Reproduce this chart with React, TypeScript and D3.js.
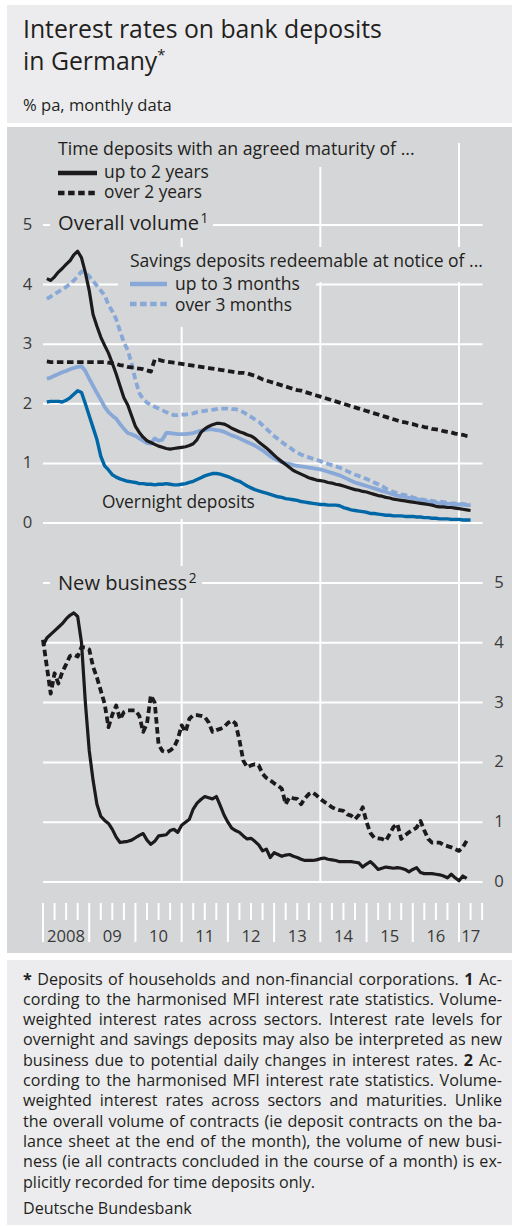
import React, { useLayoutEffect, useRef } from "react";
import * as d3 from "d3";

// ---------- DATA (monthly, Jan 2008 – Mar 2017) ----------
const yearLabels = ["2008", "09", "10", "11", "12", "13", "14", "15", "16", "17"];
const yTicks = [0, 1, 2, 3, 4, 5];

// Overall volume
const overallUpTo2Y = [
  4.10, 4.07, 4.13, 4.21, 4.27, 4.34, 4.40, 4.50, 4.56, 4.45,
  4.20, 3.90, 3.50, 3.30, 3.12, 2.98, 2.85, 2.68, 2.50, 2.30,
  2.10, 1.98, 1.80, 1.62, 1.52, 1.44, 1.38, 1.35, 1.32, 1.29,
  1.27, 1.25, 1.24, 1.25, 1.26, 1.27, 1.28, 1.30, 1.33, 1.40,
  1.52, 1.58, 1.62, 1.65, 1.67, 1.67, 1.66, 1.63, 1.59, 1.56,
  1.53, 1.51, 1.48, 1.46, 1.42, 1.36, 1.31, 1.26, 1.20, 1.14,
  1.08, 1.03, 0.98, 0.93, 0.88, 0.85, 0.82, 0.79, 0.76, 0.74,
  0.72, 0.71, 0.70, 0.68, 0.67, 0.65, 0.64, 0.62, 0.60, 0.58,
  0.56, 0.55, 0.53, 0.52, 0.50, 0.48, 0.46, 0.45, 0.43, 0.42,
  0.40, 0.39, 0.38, 0.37, 0.36, 0.35, 0.34, 0.33, 0.32, 0.31,
  0.30, 0.28, 0.27, 0.27, 0.26, 0.26, 0.25, 0.24, 0.23, 0.22,
  0.21,
];
const overallOver2Y = [
  2.71, 2.70, 2.70, 2.70, 2.70, 2.70, 2.70, 2.70, 2.70, 2.70,
  2.70, 2.70, 2.70, 2.70, 2.70, 2.70, 2.69, 2.68, 2.67, 2.65,
  2.64, 2.62, 2.61, 2.60, 2.59, 2.58, 2.56, 2.54, 2.74, 2.74,
  2.72, 2.71, 2.70, 2.69, 2.68, 2.67, 2.66, 2.65, 2.64, 2.63,
  2.62, 2.61, 2.60, 2.59, 2.58, 2.57, 2.56, 2.55, 2.54, 2.53,
  2.52, 2.52, 2.51, 2.49, 2.47, 2.44, 2.41, 2.39, 2.37, 2.35,
  2.33, 2.31, 2.29, 2.27, 2.25, 2.23, 2.22, 2.20, 2.18, 2.16,
  2.14, 2.12, 2.10, 2.08, 2.06, 2.04, 2.02, 2.00, 1.98, 1.96,
  1.94, 1.92, 1.90, 1.88, 1.86, 1.84, 1.82, 1.80, 1.78, 1.76,
  1.74, 1.72, 1.70, 1.69, 1.67, 1.66, 1.64, 1.63, 1.61, 1.60,
  1.58, 1.57, 1.56, 1.54, 1.53, 1.52, 1.50, 1.49, 1.48, 1.46,
  1.45,
];
const savingsUpTo3M = [
  2.42, 2.44, 2.47, 2.50, 2.53, 2.55, 2.58, 2.60, 2.62, 2.63,
  2.55, 2.42, 2.30, 2.18, 2.07, 1.95, 1.86, 1.80, 1.75, 1.66,
  1.58, 1.51, 1.49, 1.46, 1.42, 1.38, 1.34, 1.33, 1.42, 1.38,
  1.40, 1.51, 1.51, 1.50, 1.49, 1.49, 1.49, 1.50, 1.51, 1.53,
  1.55, 1.56, 1.57, 1.57, 1.56, 1.55, 1.53, 1.50, 1.47, 1.45,
  1.42, 1.39, 1.36, 1.33, 1.30, 1.26, 1.22, 1.17, 1.12, 1.08,
  1.05, 1.02, 1.00, 0.99, 0.97, 0.96, 0.95, 0.94, 0.93, 0.92,
  0.91, 0.90, 0.88, 0.86, 0.84, 0.82, 0.80, 0.77, 0.74, 0.71,
  0.68, 0.66, 0.64, 0.62, 0.60, 0.58, 0.56, 0.54, 0.52, 0.50,
  0.48, 0.46, 0.45, 0.44, 0.42, 0.41, 0.40, 0.38, 0.37, 0.36,
  0.35, 0.34, 0.33, 0.33, 0.32, 0.32, 0.31, 0.31, 0.31, 0.30,
  0.30,
];
const savingsOver3M = [
  3.76, 3.80, 3.84, 3.88, 3.92, 3.96, 4.01, 4.07, 4.14, 4.22,
  4.20, 4.14, 4.06, 3.98, 3.90, 3.82, 3.66, 3.55, 3.42, 3.22,
  3.03, 2.90, 2.68, 2.40, 2.18, 2.08, 2.02, 1.98, 1.95, 1.92,
  1.89, 1.86, 1.83, 1.81, 1.81, 1.82, 1.82, 1.83, 1.84, 1.86,
  1.87, 1.88, 1.89, 1.90, 1.91, 1.92, 1.92, 1.92, 1.91, 1.91,
  1.89, 1.86, 1.82, 1.78, 1.74, 1.70, 1.64, 1.58, 1.52, 1.46,
  1.41, 1.36, 1.31, 1.27, 1.22, 1.18, 1.15, 1.12, 1.10, 1.08,
  1.06, 1.04, 1.01, 0.99, 0.97, 0.95, 0.93, 0.90, 0.87, 0.84,
  0.81, 0.79, 0.76, 0.74, 0.71, 0.68, 0.65, 0.62, 0.58, 0.55,
  0.52, 0.50, 0.48, 0.47, 0.45, 0.43, 0.41, 0.40, 0.39, 0.38,
  0.37, 0.36, 0.36, 0.35, 0.34, 0.33, 0.33, 0.32, 0.32, 0.31,
  0.31,
];
const overnight = [
  2.03, 2.04, 2.04, 2.04, 2.03, 2.06, 2.10, 2.16, 2.22, 2.19,
  2.00, 1.80, 1.60, 1.40, 1.12, 0.96, 0.89, 0.81, 0.77, 0.74,
  0.72, 0.70, 0.69, 0.68, 0.66, 0.66, 0.65, 0.65, 0.64, 0.65,
  0.65, 0.66, 0.65, 0.64, 0.64, 0.65, 0.66, 0.68, 0.70, 0.73,
  0.76, 0.79, 0.81, 0.83, 0.83, 0.82, 0.80, 0.78, 0.75, 0.72,
  0.70, 0.66, 0.62, 0.59, 0.56, 0.54, 0.52, 0.50, 0.48, 0.46,
  0.44, 0.43, 0.41, 0.40, 0.39, 0.38, 0.36, 0.35, 0.34, 0.33,
  0.32, 0.31, 0.31, 0.30, 0.30, 0.30, 0.29, 0.26, 0.24, 0.22,
  0.21, 0.20, 0.19, 0.18, 0.16, 0.16, 0.15, 0.14, 0.13, 0.13,
  0.12, 0.12, 0.12, 0.11, 0.11, 0.11, 0.10, 0.10, 0.09, 0.09,
  0.08, 0.08, 0.07, 0.07, 0.07, 0.06, 0.06, 0.06, 0.05, 0.05,
  0.05,
];

// New business
const newUpTo2Y = [
  3.95, 4.08, 4.14, 4.20, 4.26, 4.32, 4.40, 4.46, 4.50, 4.44,
  4.00, 3.00, 2.20, 1.70, 1.30, 1.10, 1.03, 0.98, 0.88, 0.75,
  0.66, 0.67, 0.68, 0.70, 0.74, 0.78, 0.81, 0.70, 0.63, 0.68,
  0.77, 0.78, 0.79, 0.86, 0.88, 0.83, 0.95, 1.00, 1.05, 1.22,
  1.32, 1.38, 1.43, 1.41, 1.39, 1.43, 1.28, 1.12, 1.00, 0.90,
  0.86, 0.83, 0.77, 0.72, 0.73, 0.68, 0.62, 0.52, 0.55, 0.41,
  0.49, 0.46, 0.43, 0.45, 0.46, 0.43, 0.41, 0.38, 0.36, 0.36,
  0.36, 0.37, 0.39, 0.40, 0.38, 0.37, 0.36, 0.34, 0.34, 0.34,
  0.34, 0.33, 0.32, 0.25, 0.30, 0.34, 0.28, 0.21, 0.23, 0.25,
  0.24, 0.23, 0.24, 0.23, 0.21, 0.17, 0.21, 0.24, 0.16, 0.14,
  0.14, 0.14, 0.13, 0.12, 0.10, 0.07, 0.13, 0.07, 0.02, 0.10,
  0.06,
];
const newOver2Y = [
  4.05, 3.60, 3.15, 3.49, 3.32, 3.51, 3.64, 3.78, 3.80, 3.77,
  3.93, 3.92, 3.89, 3.60, 3.42, 3.20, 2.98, 2.59, 2.80, 2.95,
  2.72, 2.84, 2.87, 2.87, 2.87, 2.78, 2.51, 2.65, 3.12, 3.00,
  2.30, 2.19, 2.17, 2.20, 2.25, 2.39, 2.62, 2.51, 2.73, 2.79,
  2.79, 2.78, 2.76, 2.67, 2.51, 2.54, 2.56, 2.59, 2.66, 2.70,
  2.65, 2.37, 2.03, 1.92, 1.95, 1.97, 1.95, 1.81, 1.74, 1.70,
  1.65, 1.61, 1.56, 1.30, 1.42, 1.40, 1.39, 1.30, 1.40, 1.47,
  1.50, 1.45, 1.39, 1.34, 1.30, 1.25, 1.22, 1.20, 1.19, 1.13,
  1.11, 1.05, 1.12, 1.25, 1.00, 0.82, 0.74, 0.73, 0.72, 0.69,
  0.80, 0.92, 0.97, 0.72, 0.78, 0.83, 0.87, 0.91, 1.02, 0.86,
  0.72, 0.66, 0.66, 0.66, 0.62, 0.60, 0.58, 0.55, 0.52, 0.58,
  0.69,
];

const footnoteLines: [string, boolean][][] = [
  [["*", true], [" Deposits of households and non-financial corporations. ", false], ["1", true], [" Ac-", false]],
  [["cording to the harmonised MFI interest rate statistics. Volume-", false]],
  [["weighted interest rates across sectors. Interest rate levels for", false]],
  [["overnight and savings deposits may also be interpreted as new", false]],
  [["business due to potential daily changes in interest rates. ", false], ["2", true], [" Ac-", false]],
  [["cording to the harmonised MFI interest rate statistics. Volume-", false]],
  [["weighted interest rates across sectors and maturities. Unlike", false]],
  [["the overall volume of contracts (ie deposit contracts on the ba-", false]],
  [["lance sheet at the end of the month), the volume of new busi-", false]],
  [["ness (ie all contracts concluded in the course of a month) is ex-", false]],
  [["plicitly recorded for time deposits only.", false]],
];

// ---------- STYLE ----------
const FONT = "'Open Sans', 'Noto Sans', sans-serif";
const INK = "#231f20";
const TICK_INK = "#3a3a3a";
const PANEL = "#d5d6d8";
const LIGHT_PANEL = "#ececee";
const LIGHT_BLUE = "#88a9d7";
const DARK_BLUE = "#0067a7";
const BLACK = "#1c1a1b";
const DASH = "6.5,3.6";
const FOOT_X = 23;
const FOOT_W = 479;

// ---------- SCALES ----------
const x = d3.scaleLinear().domain([0, 108]).range([43, 459]);
const X_END = x(114.1);
const yTop = d3.scaleLinear().domain([0, 5]).range([523, 225]);
const yBot = d3.scaleLinear().domain([0, 5]).range([882, 583]);

const lineTop = d3
  .line<number>()
  .x((_, i) => x(i + 1))
  .y((d) => yTop(d));
const lineBot = d3
  .line<number>()
  .x((_, i) => x(i))
  .y((d) => yBot(d));

const masks = [
  { x: 50, y: 140, w: 372, h: 27 },
  { x: 50, y: 160, w: 163, h: 78 },
  { x: 118, y: 247, w: 371, h: 35 },
  { x: 118, y: 270, w: 198, h: 57 },
  { x: 97, y: 488, w: 162, h: 31 },
  { x: 50, y: 566, w: 152, h: 32 },
];

function fitSize(el: SVGTextElement, target: number): number {
  const base = parseFloat(el.getAttribute("font-size") || "14");
  const w = el.getComputedTextLength();
  return w > 0 ? (base * target) / w : base;
}

export default function App() {
  const svgRef = useRef<SVGSVGElement>(null);

  useLayoutEffect(() => {
    const svg = svgRef.current;
    if (!svg) return;
    // individual labels: fit to widths
    svg.querySelectorAll<SVGTextElement>("text[data-fit]").forEach((t) => {
      const target = parseFloat(t.getAttribute("data-fit") || "0");
      t.setAttribute("font-size", String(fitSize(t, target)));
    });
    // groups sharing a size set by one reference label
    const groups: [string, string, number][] = [
      ["title", "#t-title1", 359],
      ["tick", "#t-2008", 38],
    ];
    groups.forEach(([g, refSel, target]) => {
      const r = svg.querySelector<SVGTextElement>(refSel);
      if (!r) return;
      const fs = fitSize(r, target);
      svg.querySelectorAll<SVGTextElement>(`text[data-group="${g}"]`).forEach((t) =>
        t.setAttribute("font-size", String(fs))
      );
    });
    // footnote: size from last line, capped so justified lines fit
    const last = svg.querySelector<SVGTextElement>("#f-last");
    const just = Array.from(svg.querySelectorAll<SVGTextElement>("text[data-justify]"));
    if (last) {
      let fs = fitSize(last, 292);
      const base = parseFloat(last.getAttribute("font-size") || "14");
      just.forEach((t) => {
        const w = t.getComputedTextLength();
        const n = (t.textContent || "").split(" ").length - 1;
        const cap = (base * (FOOT_W - n * 0.6)) / w;
        fs = Math.min(fs, cap);
      });
      svg.querySelectorAll<SVGTextElement>("text[data-group='foot']").forEach((t) =>
        t.setAttribute("font-size", String(fs))
      );
    }
    just.forEach((t) => {
      t.setAttribute("word-spacing", "0");
      const w = t.getComputedTextLength();
      const n = (t.textContent || "").split(" ").length - 1;
      if (n > 0) t.setAttribute("word-spacing", String((FOOT_W - w) / n));
    });
  }, []);

  const quarterTicks = d3.range(0, 115, 3);
  const verticals = [36, 72, 108];

  return (
    <svg
      ref={svgRef}
      width={512}
      height={1226}
      style={{ position: "absolute", left: 0, top: 0, display: "block", background: "#fff" }}
      fontFamily={FONT}
    >
      {/* panels */}
      <rect x={7} y={5} width={505} height={118} fill={LIGHT_PANEL} />
      <rect x={7} y={127} width={505} height={826} fill={PANEL} />
      <rect x={7} y={960} width={505} height={265} fill={LIGHT_PANEL} />

      {/* title */}
      <text id="t-title1" data-group="title" x={23} y={38} fontSize={22} fill={INK}>
        Interest rates on bank deposits
      </text>
      <text data-group="title" x={23} y={70} fontSize={22} fill={INK}>
        in Germany
        <tspan fontSize="60%" dy={-10}>*</tspan>
      </text>
      <text data-fit="149" x={23} y={111} fontSize={14.5} fill={INK}>
        % pa, monthly data
      </text>

      {/* gridlines */}
      <g stroke="#fff" strokeWidth={2}>
        {yTicks.map((t) => (
          <line key={"ht" + t} x1={43} x2={X_END} y1={yTop(t)} y2={yTop(t)} />
        ))}
        {yTicks.map((t) => (
          <line key={"hb" + t} x1={43} x2={X_END} y1={yBot(t)} y2={yBot(t)} />
        ))}
        {verticals.map((m) => (
          <line key={"v" + m} x1={x(m)} x2={x(m)} y1={143} y2={882} />
        ))}
      </g>

      {/* masks behind labels */}
      {masks.map((m, i) => (
        <rect key={"m" + i} x={m.x} y={m.y} width={m.w} height={m.h} fill={PANEL} />
      ))}

      {/* x axis */}
      <g stroke="#fff" strokeWidth={2}>
        {quarterTicks.map((m) => (
          <line key={"q" + m} x1={x(m)} x2={x(m)} y1={903} y2={m % 12 === 0 ? 942 : 920} />
        ))}
      </g>
      {yearLabels.map((lab, k) => {
        const a = x(12 * k);
        const b = Math.min(x(12 * k + 12), X_END);
        return (
          <text
            key={lab}
            id={k === 0 ? "t-2008" : undefined}
            data-group="tick"
            x={(a + b) / 2}
            y={942}
            fontSize={15}
            fill={TICK_INK}
            textAnchor="middle"
          >
            {lab}
          </text>
        );
      })}

      {/* y tick labels */}
      {yTicks.map((t) => (
        <text key={"lt" + t} data-group="tick" x={27.5} y={yTop(t) + 5} fontSize={15} fill={TICK_INK} textAnchor="middle">
          {t}
        </text>
      ))}
      {yTicks.map((t) => (
        <text key={"lb" + t} data-group="tick" x={499} y={yBot(t) + 5} fontSize={15} fill={TICK_INK} textAnchor="middle">
          {t}
        </text>
      ))}

      {/* top chart series */}
      <g fill="none" strokeLinejoin="round">
        <path d={lineTop(savingsUpTo3M) || ""} stroke={LIGHT_BLUE} strokeWidth={3.8} />
        <path d={lineTop(savingsOver3M) || ""} stroke={LIGHT_BLUE} strokeWidth={3.8} strokeDasharray={DASH} />
        <path d={lineTop(overnight) || ""} stroke={DARK_BLUE} strokeWidth={3.4} />
        <path d={lineTop(overallOver2Y) || ""} stroke={BLACK} strokeWidth={3.8} strokeDasharray={DASH} />
        <path d={lineTop(overallUpTo2Y) || ""} stroke={BLACK} strokeWidth={3.2} />
      </g>

      {/* bottom chart series */}
      <g fill="none" strokeLinejoin="round">
        <path d={lineBot(newOver2Y) || ""} stroke={BLACK} strokeWidth={3.8} strokeDasharray={DASH} />
        <path d={lineBot(newUpTo2Y) || ""} stroke={BLACK} strokeWidth={3.2} />
      </g>

      {/* legend & labels */}
      <g fill={INK}>
        <text data-fit="357" x={58} y={155} fontSize={15}>Time deposits with an agreed maturity of ...</text>
        <line x1={58} x2={97} y1={173} y2={173} stroke={BLACK} strokeWidth={4.5} />
        <text data-fit="105" x={104} y={178} fontSize={15}>up to 2 years</text>
        <line x1={58} x2={97} y1={193} y2={193} stroke={BLACK} strokeWidth={4.5} strokeDasharray={DASH} />
        <text data-fit="98" x={104} y={198} fontSize={15}>over 2 years</text>
        <text data-fit="149" x={58} y={230} fontSize={16}>
          Overall volume<tspan fontSize="68%" dy={-7} dx={1.5}>1</tspan>
        </text>
        <text data-fit="353" x={130} y={267} fontSize={15}>Savings deposits redeemable at notice of ...</text>
        <line x1={130} x2={167} y1={284} y2={284} stroke={LIGHT_BLUE} strokeWidth={4.5} />
        <text data-fit="125" x={175} y={290} fontSize={15}>up to 3 months</text>
        <line x1={130} x2={167} y1={304} y2={304} stroke={LIGHT_BLUE} strokeWidth={4.5} strokeDasharray={DASH} />
        <text data-fit="117" x={175} y={311} fontSize={15}>over 3 months</text>
        <text data-fit="153" x={102} y={508} fontSize={15}>Overnight deposits</text>
        <text data-fit="137" x={58} y={590} fontSize={16}>
          New business<tspan fontSize="68%" dy={-7} dx={1.5}>2</tspan>
        </text>
      </g>

      {/* footnote */}
      <g fill={INK}>
        {footnoteLines.map((segs, i) => (
          <text
            key={"f" + i}
            id={i === 10 ? "f-last" : undefined}
            data-group="foot"
            x={FOOT_X}
            y={984.5 + i * 20.3}
            fontSize={14}
            {...(i < 10 ? { "data-justify": "1" } : {})}
          >
            {segs.map(([t, b], j) => (
              <tspan key={j} fontWeight={b ? 700 : 400}>
                {t}
              </tspan>
            ))}
          </text>
        ))}
        <text data-group="foot" x={FOOT_X} y={1214} fontSize={14}>
          Deutsche Bundesbank
        </text>
      </g>
    </svg>
  );
}
